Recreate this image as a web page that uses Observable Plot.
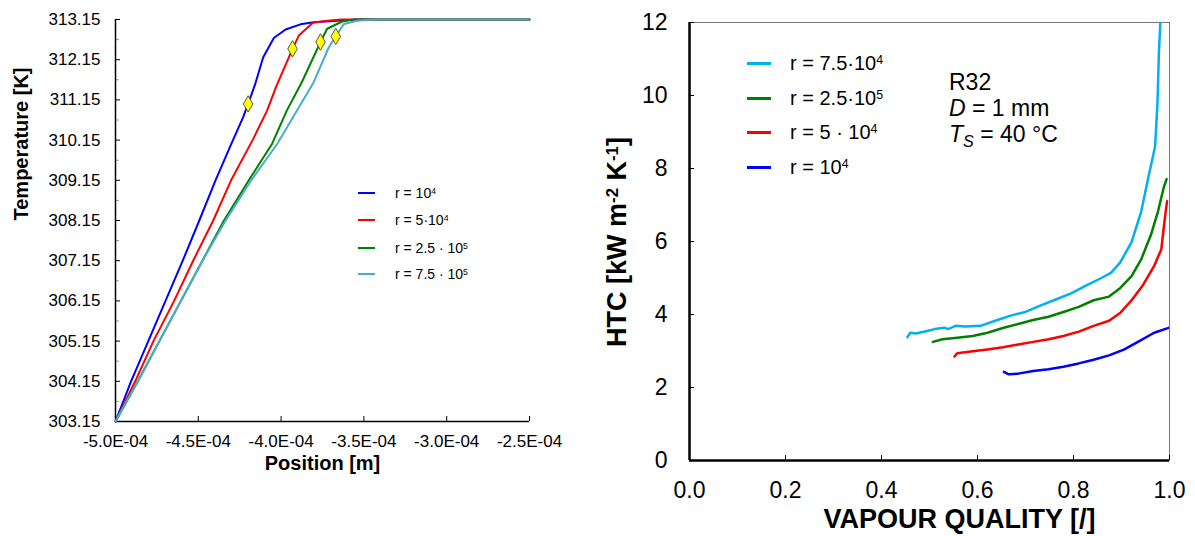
<!DOCTYPE html>
<html><head><meta charset="utf-8">
<script src="https://cdn.jsdelivr.net/npm/d3@7"></script>
<script src="https://cdn.jsdelivr.net/npm/@observablehq/plot@0.6"></script>
<style>
body{margin:0;background:#fff;font-family:"Liberation Sans",Arial,Helvetica,sans-serif;}
#wrap{position:relative;width:1195px;height:536px;overflow:hidden;background:#fff;}
#left,#right{position:absolute;top:0;}
#left{left:0;} #right{left:560px;}
.ov{position:absolute;white-space:nowrap;color:#000;line-height:1;}
.lg{transform:translateY(-50%);}
.sw{position:absolute;}
sup{font-size:0.62em;vertical-align:0;position:relative;top:-0.5em;}
sub{font-size:0.7em;vertical-align:0;position:relative;top:0.3em;}
</style></head><body><div id="wrap"><div id="left"></div><div id="right"></div></div>
<script>
// ---------- LEFT PANEL DATA ----------
const posTicks = [-5e-4, -4.5e-4, -4e-4, -3.5e-4, -3e-4, -2.5e-4];
const tempTicks = [303.15, 304.15, 305.15, 306.15, 307.15, 308.15, 309.15, 310.15, 311.15, 312.15, 313.15];
const tempMinorTicks = [303.65, 304.65, 305.65, 306.65, 307.65, 308.65, 309.65, 310.65, 311.65, 312.65];
const leftSeries = ["r = 10^4", "r = 5·10^4", "r = 2.5 · 10^5", "r = 7.5 · 10^5"];
const leftColors = ["#0000ff", "#ff0000", "#008000", "#4aaccc"];

const posR1e4 = [-5.0e-4, -4.906e-4, -4.802e-4, -4.698e-4, -4.594e-4, -4.494e-4, -4.396e-4, -4.300e-4, -4.229e-4, -4.199e-4, -4.156e-4, -4.108e-4, -4.044e-4, -3.973e-4, -3.883e-4, -3.804e-4, -3.615e-4, -3.51e-4, -2.5e-4];
const tempR1e4 = [303.15, 304.15, 305.15, 306.15, 307.15, 308.15, 309.15, 310.06, 310.72, 311.05, 311.55, 312.21, 312.69, 312.90, 313.03, 313.08, 313.13, 313.15, 313.15];

const posR5e4 = [-5.0e-4, -4.881e-4, -4.771e-4, -4.646e-4, -4.531e-4, -4.410e-4, -4.302e-4, -4.172e-4, -4.084e-4, -4.031e-4, -3.931e-4, -3.893e-4, -3.808e-4, -3.722e-4, -3.635e-4, -2.5e-4];
const tempR5e4 = [303.15, 304.15, 305.15, 306.15, 307.15, 308.15, 309.15, 310.15, 310.89, 311.47, 312.42, 312.75, 313.07, 313.12, 313.15, 313.15];

const posR25e5 = [-5.0e-4, -4.865e-4, -4.735e-4, -4.605e-4, -4.475e-4, -4.345e-4, -4.195e-4, -4.054e-4, -3.965e-4, -3.875e-4, -3.762e-4, -3.722e-4, -3.631e-4, -3.56e-4, -2.5e-4];
const tempR25e5 = [303.15, 304.15, 305.15, 306.15, 307.15, 308.15, 309.15, 310.06, 310.89, 311.59, 312.59, 312.92, 313.10, 313.15, 313.15];

const posR75e5 = [-5.0e-4, -4.865e-4, -4.735e-4, -4.605e-4, -4.475e-4, -4.335e-4, -4.18e-4, -4.023e-4, -3.903e-4, -3.803e-4, -3.712e-4, -3.670e-4, -3.621e-4, -3.54e-4, -3.45e-4, -2.5e-4];
const tempR75e5 = [303.15, 304.15, 305.15, 306.15, 307.15, 308.15, 309.15, 310.06, 310.89, 311.59, 312.46, 312.73, 313.04, 313.12, 313.15, 313.15];

const markerPos = [-4.199e-4, -3.931e-4, -3.762e-4, -3.670e-4];
const markerTemp = [311.05, 312.42, 312.59, 312.73];

// ---------- RIGHT PANEL DATA ----------
const qualityTicks = [0, 0.2, 0.4, 0.6, 0.8, 1.0];
const htcTicks = [0, 2, 4, 6, 8, 10, 12];
const rightSeries = ["r = 7.5·10^4", "r = 2.5·10^5", "r = 5 · 10^4", "r = 10^4"];
const rightColors = ["#00b0f0", "#008000", "#ff0000", "#0000ff"];

const qR75e4 = [0.454, 0.46, 0.472, 0.495, 0.511, 0.531, 0.539, 0.554, 0.574, 0.606, 0.637, 0.669, 0.700, 0.732, 0.763, 0.795, 0.826, 0.858, 0.878, 0.897, 0.921, 0.941, 0.956, 0.970, 0.975, 0.978, 0.981];
const htcR75e4 = [3.38, 3.50, 3.48, 3.55, 3.60, 3.64, 3.60, 3.69, 3.67, 3.69, 3.83, 3.97, 4.07, 4.25, 4.41, 4.58, 4.79, 5.00, 5.14, 5.42, 5.98, 6.82, 7.76, 8.60, 9.81, 11.2, 12.0];

const qR25e5 = [0.507, 0.527, 0.558, 0.590, 0.621, 0.653, 0.685, 0.716, 0.748, 0.779, 0.811, 0.842, 0.874, 0.897, 0.921, 0.941, 0.961, 0.976, 0.988, 0.994];
const htcR25e5 = [3.25, 3.32, 3.36, 3.41, 3.50, 3.63, 3.74, 3.85, 3.94, 4.07, 4.21, 4.39, 4.49, 4.72, 5.05, 5.51, 6.17, 6.82, 7.48, 7.71];

const qR5e4 = [0.552, 0.558, 0.590, 0.621, 0.653, 0.685, 0.716, 0.748, 0.779, 0.811, 0.842, 0.874, 0.897, 0.921, 0.945, 0.968, 0.983, 0.987, 0.992, 0.995];
const htcR5e4 = [2.85, 2.94, 2.99, 3.04, 3.10, 3.18, 3.25, 3.32, 3.41, 3.53, 3.69, 3.83, 4.04, 4.39, 4.81, 5.33, 5.79, 6.26, 6.82, 7.10];

const qR1e4 = [0.655, 0.665, 0.685, 0.716, 0.748, 0.779, 0.811, 0.842, 0.874, 0.905, 0.937, 0.968, 1.0];
const htcR1e4 = [2.43, 2.36, 2.38, 2.45, 2.50, 2.57, 2.66, 2.76, 2.88, 3.04, 3.27, 3.50, 3.64];

const annotationLines = ["R32", "<i>D</i> = 1 mm", "<i>T<sub>S</sub></i> = 40 °C"];

// ---------- BUILD ----------
const rows = (xs, ys, s) => xs.map((x, i) => ({x, y: ys[i], s}));
const leftData = [
  ...rows(posR1e4, tempR1e4, leftSeries[0]),
  ...rows(posR5e4, tempR5e4, leftSeries[1]),
  ...rows(posR25e5, tempR25e5, leftSeries[2]),
  ...rows(posR75e5, tempR75e5, leftSeries[3])
];
const markers = markerPos.map((x, i) => ({x, y: markerTemp[i]}));
const rightData = [
  ...rows(qR1e4, htcR1e4, rightSeries[3]),
  ...rows(qR5e4, htcR5e4, rightSeries[2]),
  ...rows(qR25e5, htcR25e5, rightSeries[1]),
  ...rows(qR75e4, htcR75e4, rightSeries[0])
];

const fmtPos = d => {
  const [m, e] = d.toExponential(1).split("e");
  const ev = +e;
  return m + "E" + (ev < 0 ? "-" : "+") + String(Math.abs(ev)).padStart(2, "0");
};
const font = "'Liberation Sans', Arial, Helvetica, sans-serif";

const left = Plot.plot({
  width: 560, height: 536,
  marginLeft: 115, marginRight: 31, marginTop: 19, marginBottom: 115,
  style: {fontFamily: font, fontSize: "17px", color: "#000", background: "transparent", overflow: "visible"},
  x: {domain: [-5e-4, -2.5e-4]},
  y: {domain: [303.15, 313.15]},
  color: {domain: leftSeries, range: leftColors},
  marks: [
    Plot.axisY({ticks: tempMinorTicks, tickSize: 4, dx: 4, tickFormat: () => "", label: null, stroke: "#999"}),
    Plot.axisY({ticks: tempTicks, tickSize: 5, dx: 5, tickFormat: () => "", label: null}),
    Plot.axisY({ticks: tempTicks, tickSize: 0, tickPadding: 15, tickFormat: d => d.toFixed(2), label: null, fontSize: 17}),
    Plot.axisX({ticks: posTicks, tickSize: 5, dy: -5, tickFormat: () => "", label: null}),
    Plot.axisX({ticks: posTicks, tickSize: 0, tickPadding: 13, tickFormat: fmtPos, label: null, fontSize: 17}),
    Plot.ruleX([-5e-4], {stroke: "#000", strokeWidth: 1.5}),
    Plot.ruleY([303.15], {stroke: "#000", strokeWidth: 1.5}),
    Plot.line(leftData, {x: "x", y: "y", z: "s", stroke: "s", strokeWidth: 2}),
    Plot.dot(markers, {x: "x", y: "y", symbol: "diamond", r: 5, fill: "#ffff00", stroke: "#444", strokeWidth: 0.9}),
    Plot.text(["Position [m]"], {frameAnchor: "bottom", dy: 48, fontSize: 20, fontWeight: "bold"}),
    Plot.text(["Temperature [K]"], {frameAnchor: "left", rotate: -90, dx: -94, fontSize: 20, fontWeight: "bold"})
  ]
});
document.getElementById("left").appendChild(left);

const right = Plot.plot({
  width: 635, height: 536,
  marginLeft: 129, marginRight: 26, marginTop: 22, marginBottom: 76,
  style: {fontFamily: font, fontSize: "23px", color: "#000", background: "transparent", overflow: "visible"},
  x: {domain: [0, 1]},
  y: {domain: [0, 12]},
  color: {domain: rightSeries, range: rightColors},
  marks: [
    Plot.frame({stroke: "#777", strokeWidth: 1}),
    Plot.axisY({ticks: htcTicks, tickSize: 5, dx: 5, tickFormat: () => "", label: null}),
    Plot.axisY({ticks: htcTicks, tickSize: 0, tickPadding: 22, tickFormat: d => String(d), label: null, fontSize: 23}),
    Plot.axisX({ticks: qualityTicks, tickSize: 5, dy: -5, tickFormat: () => "", label: null}),
    Plot.axisX({ticks: qualityTicks, tickSize: 0, tickPadding: 21, tickFormat: d => d.toFixed(1), label: null, fontSize: 23}),
    Plot.ruleX([0], {stroke: "#000", strokeWidth: 2.5}),
    Plot.ruleY([0], {stroke: "#000", strokeWidth: 2.5}),
    Plot.line(rightData, {x: "x", y: "y", z: "s", stroke: "s", strokeWidth: 2.5, clip: true}),
    Plot.text(["VAPOUR QUALITY [/]"], {frameAnchor: "bottom", dx: 30, dy: 67, fontSize: 27, fontWeight: "bold"})
  ]
});
document.getElementById("right").appendChild(right);

// ---------- OVERLAYS (legends, annotation, rotated title with superscripts) ----------
const wrap = document.getElementById("wrap");
const sup = s => s.replace(/\^(\d+)/g, "<sup>$1</sup>");
function addLegend(series, colors, rowsY, lineX, lineW, lineH, textX, fs) {
  series.forEach((s, i) => {
    const sw = document.createElement("div");
    sw.className = "sw";
    sw.style.cssText = `left:${lineX}px;top:${rowsY[i] - lineH / 2}px;width:${lineW}px;height:${lineH}px;background:${colors[i]};`;
    wrap.appendChild(sw);
    const t = document.createElement("div");
    t.className = "ov lg";
    t.style.cssText = `left:${textX}px;top:${rowsY[i]}px;font-size:${fs}px;`;
    t.innerHTML = sup(s);
    wrap.appendChild(t);
  });
}
addLegend(leftSeries, leftColors, [193, 220, 248, 274], 358, 17, 2, 395, 14);
addLegend(rightSeries, rightColors, [63, 98, 132, 167], 747, 24, 3, 790, 20);

annotationLines.forEach((s, i) => {
  const t = document.createElement("div");
  t.className = "ov lg";
  t.style.cssText = `left:949px;top:${[82, 108, 134][i]}px;font-size:23px;`;
  t.innerHTML = s;
  wrap.appendChild(t);
});

const htc = document.createElement("div");
htc.className = "ov";
htc.style.cssText = "left:617px;top:242px;font-size:27px;font-weight:bold;transform:translate(-50%,-50%) rotate(-90deg);";
htc.innerHTML = "HTC [kW m<sup>-2</sup> K<sup>-1</sup>]";
wrap.appendChild(htc);
</script>
</body></html>
